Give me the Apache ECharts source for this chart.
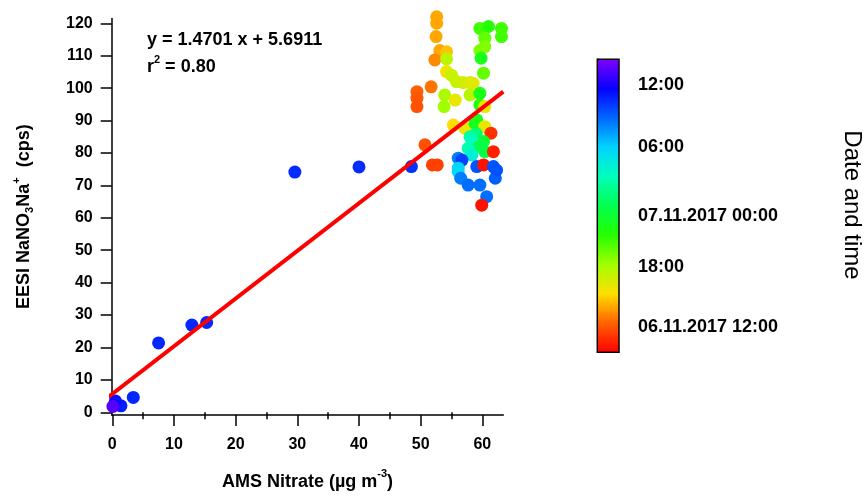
<!DOCTYPE html>
<html>
<head>
<meta charset="utf-8">
<script src="https://cdn.jsdelivr.net/npm/echarts@6/dist/echarts.min.js"></script>
<style>html,body{margin:0;padding:0;background:#fff}#c{width:866px;height:498px}</style>
</head>
<body>
<div id="c"></div>
<script>
// ---- data ----
const amsNitrate = [
  52.6, 52.6, 52.5, 53.1, 54.2, 52.3, 54.2, 54.2, 55.0, 55.8, 56.9, 58.0, 58.5,
  49.4, 49.4, 49.4, 51.7, 53.9, 55.6, 53.8, 58.0, 59.6, 59.6, 60.4,
  59.6, 61.0, 63.1, 63.1, 60.4, 60.4, 59.6, 59.8, 60.2, 59.1,
  55.3, 57.2, 58.8, 60.4, 61.4, 59.0, 58.0, 60.2, 58.3, 59.5, 57.7, 60.4, 61.8,
  50.7, 58.3, 56.1, 56.7, 51.9, 52.7, 48.5, 59.1, 60.2, 61.8,
  56.1, 56.1, 56.5, 57.7, 59.6, 62.1, 62.3, 60.7, 59.9,
  40.0, 29.6, 15.3, 12.9, 7.5, 3.4, 1.4, 0.5, 0.1
];
const eesiSignal = [
  122.0, 120.0, 115.9, 111.6, 111.2, 108.7, 109.0, 105.1, 104.0, 102.0, 101.7, 101.7, 101.5,
  98.9, 96.9, 94.3, 100.4, 97.9, 96.3, 94.3, 97.9, 98.4, 94.8, 94.3,
  118.4, 119.0, 118.4, 115.9, 115.4, 112.8, 111.6, 109.2, 104.6, 90.2,
  88.6, 87.6, 89.1, 88.1, 86.1, 86.0, 85.0, 83.5, 84.0, 82.0, 81.4, 80.4, 80.4,
  82.5, 79.4, 78.4, 77.8, 76.3, 76.3, 75.8, 75.8, 76.3, 75.8,
  75.3, 74.2, 72.2, 70.1, 70.1, 72.2, 74.7, 66.5, 63.9,
  75.7, 74.1, 27.7, 26.9, 21.4, 4.6, 2.0, 3.5, 1.8
];
// time in hours after 06.11.2017 00:00 (estimated from point colours)
const timeHours = [
  14.0, 14.0, 14.0, 14.0, 14.6, 13.3, 17.5, 15.8, 17.1, 17.1, 16.8, 16.5, 16.3,
  12.3, 12.1, 11.9, 12.8, 17.9, 16.0, 18.2, 17.5, 22.0, 21.2, 16.0,
  20.5, 21.2, 20.5, 20.5, 19.7, 19.0, 19.0, 22.0, 19.7, 22.0,
  15.3, 15.8, 22.0, 16.0, 10.9, 25.0, 26.2, 23.0, 27.0, 24.0, 26.6, 23.6, 10.5,
  11.9, 28.0, 32.1, 33.7, 11.4, 11.4, 34.2, 33.3, 10.0, 33.3,
  29.5, 29.5, 32.1, 32.5, 32.5, 32.9, 33.3, 32.5, 10.0,
  34.4, 34.4, 34.5, 34.5, 34.5, 34.5, 34.8, 35.2, 37.5
];
const fitLineX = [-0.8, 63.4];
const fitLineY = [4.5, 98.9];
const fitEquation = 'y = 1.4701 x + 5.6911';
const fitR2 = '0.80';

const xTickValues = [0, 10, 20, 30, 40, 50, 60];
const xMinorTickValues = [5, 15, 25, 35, 45, 55];
const yTickValues = [0, 10, 20, 30, 40, 50, 60, 70, 80, 90, 100, 110, 120];
const colorTickValues = [12.03, 17.9, 23.02, 29.86, 36.0];
const colorTickLabels = ['06.11.2017 12:00', '18:00', '07.11.2017 00:00', '06:00', '12:00'];
const colorMin = 9.5, colorMax = 38.5;
const rainbow = ['#ff0000','#ff6200','#ffdf00','#a1ff00','#25ff00','#00ff4e','#00ffbc','#00d4ff','#0067ff','#0600ff','#8000ff'];

// ---- chart ----
const FONT = '"Liberation Sans", Arial, sans-serif';
const scatterData = amsNitrate.map((x, i) => [x, eesiSignal[i], timeHours[i]]);
const lineData = fitLineX.map((x, i) => [x, fitLineY[i]]);

const chart = echarts.init(document.getElementById('c'), null, {renderer: 'canvas'});
const axisCommon = {
  axisLine: {show: true, onZero: false, lineStyle: {color: '#000', width: 1.5}},
  splitLine: {show: false}
};
chart.setOption({
  animation: false,
  backgroundColor: '#fff',
  textStyle: {fontFamily: FONT},
  grid: [
    {left: 111.7, top: 18.4, width: 391.6, height: 396.5, containLabel: false, outerBoundsMode: 'none'},
    {left: 597.3, top: 59.3, width: 21.7, height: 293, show: true, borderColor: '#000', borderWidth: 1.5,
     backgroundColor: 'transparent', z: 10, containLabel: false, outerBoundsMode: 'none'}
  ],
  xAxis: [
    Object.assign({}, axisCommon, {
      type: 'value', gridIndex: 0, min: -0.1, max: 63.4, position: 'bottom',
      axisTick: {show: true, inside: false, length: 11, customValues: xTickValues, lineStyle: {color: '#000', width: 1.5}},
      axisLabel: {show: true, customValues: xTickValues, margin: 22, color: '#000', fontSize: 16, fontWeight: 'bold', fontFamily: FONT},
      name: '{b|AMS Nitrate (µg m}{sup|-3}{b|)}',
      nameLocation: 'middle', nameGap: 54,
      nameTextStyle: {rich: {
        b: {fontSize: 18, fontWeight: 'bold', color: '#000', fontFamily: FONT, lineHeight: 22, verticalAlign: 'bottom'},
        sup: {fontSize: 11, fontWeight: 'bold', color: '#000', fontFamily: FONT, lineHeight: 22, verticalAlign: 'top'}
      }}
    }),
    {
      type: 'value', gridIndex: 0, min: -0.1, max: 63.4, position: 'bottom',
      axisLine: {show: false}, splitLine: {show: false}, axisLabel: {show: false},
      axisTick: {show: true, inside: false, length: 7, customValues: xMinorTickValues, lineStyle: {color: '#000', width: 1.5}}
    },
    {type: 'value', gridIndex: 1, min: 0, max: 1, show: false}
  ],
  yAxis: [
    Object.assign({}, axisCommon, {
      type: 'value', gridIndex: 0, min: -0.8, max: 121.5, position: 'left',
      axisTick: {show: true, inside: false, length: 11, customValues: yTickValues, lineStyle: {color: '#000', width: 1.5}},
      axisLabel: {show: true, customValues: yTickValues, margin: 19, color: '#000', fontSize: 16, fontWeight: 'bold', fontFamily: FONT},
      name: '{b|EESI NaNO}{sub|3}{b|Na}{sup|+}{b|  (cps)}',
      nameLocation: 'middle', nameGap: 76, nameRotate: 90,
      nameTextStyle: {rich: {
        b: {fontSize: 18, fontWeight: 'bold', color: '#000', fontFamily: FONT, lineHeight: 24, verticalAlign: 'middle'},
        sub: {fontSize: 11, fontWeight: 'bold', color: '#000', fontFamily: FONT, lineHeight: 24, verticalAlign: 'bottom', padding: [10, 0, 0, 0]},
        sup: {fontSize: 11, fontWeight: 'bold', color: '#000', fontFamily: FONT, lineHeight: 24, verticalAlign: 'top'}
      }}
    }),
    {
      type: 'value', gridIndex: 1, min: colorMin, max: colorMax, position: 'right',
      axisLine: {show: true, lineStyle: {color: '#000', width: 1.5}},
      splitLine: {show: false},
      axisTick: {show: true, inside: false, length: 13, customValues: colorTickValues, lineStyle: {color: '#000', width: 1.5}},
      axisLabel: {show: true, customValues: colorTickValues, margin: 19, color: '#000', fontSize: 18, fontWeight: 'bold', fontFamily: FONT,
        formatter: function (v) {
          let best = 0;
          colorTickValues.forEach((t, i) => { if (Math.abs(t - v) < Math.abs(colorTickValues[best] - v)) best = i; });
          return colorTickLabels[best];
        }}
    }
  ],
  visualMap: {
    type: 'continuous', show: true, seriesIndex: 0, dimension: 2,
    min: colorMin, max: colorMax, calculable: false, realtime: false,
    orient: 'vertical', left: 597.3, top: 59.3, itemWidth: 21.7, itemHeight: 293,
    padding: 0, text: null, showLabel: false,
    inRange: {color: rainbow}
  },
  graphic: [
    {type: 'text', left: 147, top: 31, style: {text: fitEquation, font: 'bold 18px ' + FONT, fill: '#000'}},
    {type: 'text', left: 147, top: 54, style: {text: '{a|r}{s|2}{a| = ' + fitR2 + '}', fill: '#000',
      rich: {a: {font: 'bold 18px ' + FONT, fill: '#000', lineHeight: 22, verticalAlign: 'bottom'},
             s: {font: 'bold 11px ' + FONT, fill: '#000', lineHeight: 22, verticalAlign: 'top'}}}},
    {type: 'text', x: 852, y: 205, rotation: -Math.PI / 2,
     style: {text: 'Date and time', font: '24px ' + FONT, fill: '#000', align: 'center', verticalAlign: 'middle'}}
  ],
  series: [
    {type: 'scatter', xAxisIndex: 0, yAxisIndex: 0, data: scatterData, symbolSize: 13, clip: false, z: 2,
     itemStyle: {opacity: 1}},
    {type: 'line', xAxisIndex: 0, yAxisIndex: 0, data: lineData, symbol: 'none', clip: false, z: 3,
     lineStyle: {color: '#ff0000', width: 4}},
    {type: 'scatter', xAxisIndex: 2, yAxisIndex: 1, data: []}
  ]
});
</script>
</body>
</html>
